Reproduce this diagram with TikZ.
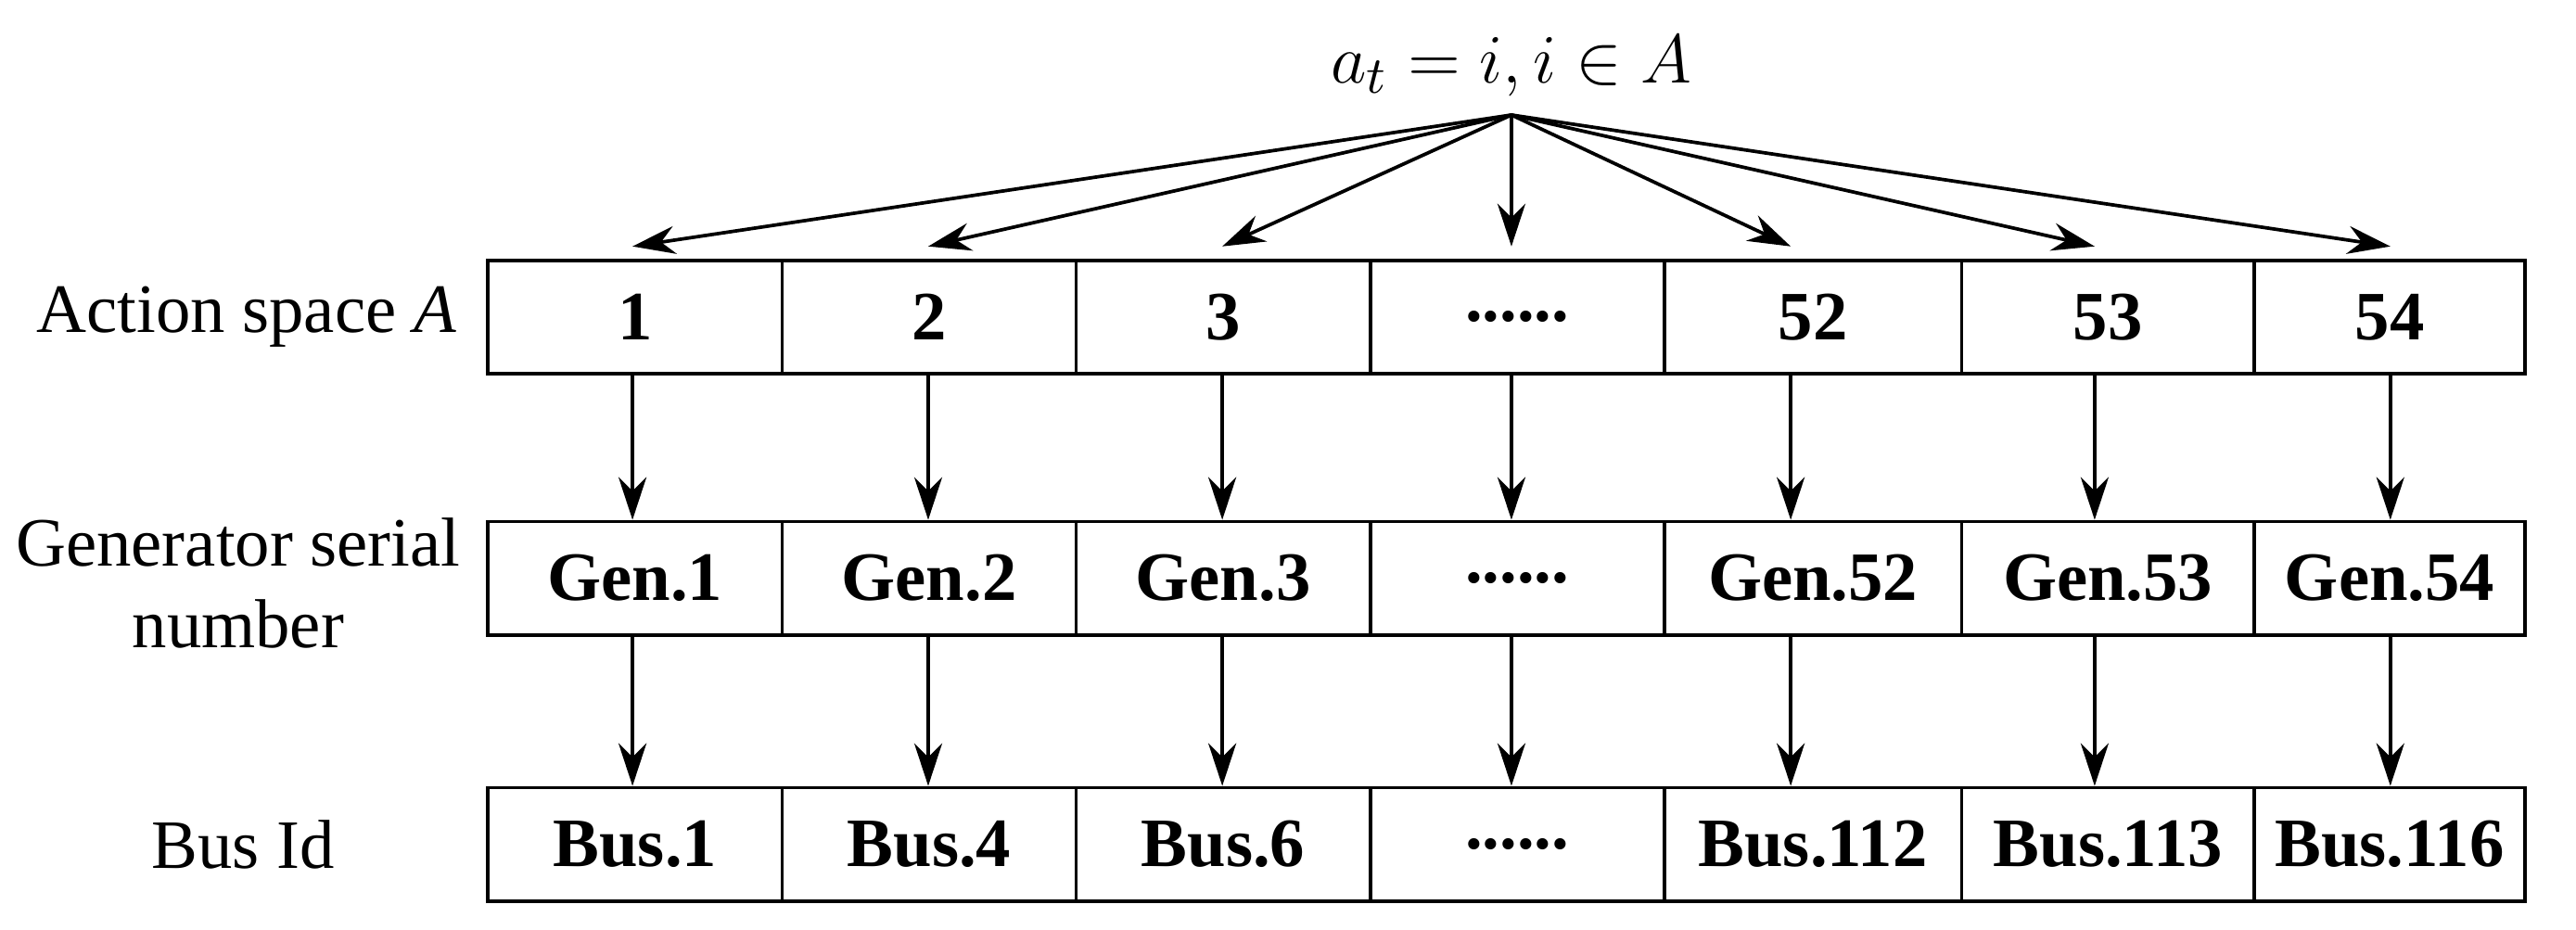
\documentclass[tikz,border=0pt]{standalone}
\usepackage{fontspec}
\setmainfont{Liberation Serif}
\usetikzlibrary{arrows.meta}
\newcommand{\gapdots}{\textbf{.\kern0pt.\kern0pt.\kern0pt.\kern0pt.\kern0pt.}}
\begin{document}
\begin{tikzpicture}[x=0.1mm,y=-0.1mm,font=\fontsize{12}{14}\selectfont,
  cell/.style={draw, line width=0.6pt, minimum height=6.9mm, inner sep=0pt, font=\fontsize{12}{14}\selectfont\bfseries},
  link/.style={-{Stealth[length=2.6mm,width=1.7mm]}, line width=0.6pt}]
  \useasboundingbox (0,0) rectangle (1568,566);
  \node (top) at (920,40) {\fontsize{13}{15}\selectfont$a_t = i, i \in A$};
  \coordinate (apex) at (920,70);
  % rows of cells
  \foreach \c/\w/\p/\a/\g/\b in {
      1/179/385/1/Gen.1/Bus.1,
      2/179/565/2/Gen.2/Bus.4,
      3/179/744/3/Gen.3/Bus.6,
      4/179/920/\gapdots/\gapdots/\gapdots,
      5/181/1090/52/Gen.52/Bus.112,
      6/178/1275/53/Gen.53/Bus.113,
      7/165/1455/54/Gen.54/Bus.116} {
    \pgfmathsetmacro{\lft}{296+179*(\c-1)+(\c>5)*2-(\c>6)*1}
    \node[cell, minimum width=\w*0.1mm, anchor=west] (r1-\c) at (\lft,193) {\a};
    \node[cell, minimum width=\w*0.1mm, anchor=west] (r2-\c) at (\lft,352) {\g};
    \node[cell, minimum width=\w*0.1mm, anchor=west] (r3-\c) at (\lft,514) {\b};
    \coordinate (t-\c) at (\p,150);
    \draw[link] (apex) -- (t-\c);
    \draw[link] (r1-\c.south -| t-\c) -- (r2-\c.north -| t-\c);
    \draw[link] (r2-\c.south -| t-\c) -- (r3-\c.north -| t-\c);
  }
  \node (l1) at (150,193) {Action space \textit{A}};
  \node[align=center] (l2) at (145,355) {Generator serial\\number};
  \node (l3) at (148,514) {Bus Id};
\end{tikzpicture}
\end{document}
